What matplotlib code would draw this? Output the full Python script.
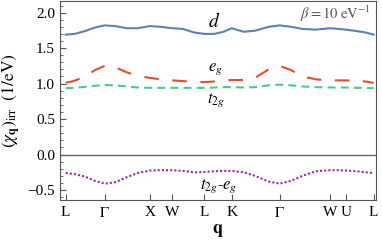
import numpy as np
import matplotlib.pyplot as plt

plt.rcParams['font.family'] = ['Liberation Serif', 'DejaVu Serif']
plt.rcParams['mathtext.fontset'] = 'stix'

# high-symmetry path (segment lengths in 2pi/a)
kpts = ['L', r'$\Gamma$', 'X', 'W', 'L', 'K', r'$\Gamma$', 'W', 'U', 'L']
seg_len = [0.866, 1.0, 0.5, 0.707, 0.612, 1.061, 1.118, 0.354, 0.612]

q = [0.0, 0.2, 0.43, 0.65, 0.866, 1.1, 1.35, 1.6, 1.866, 2.1, 2.366, 2.6, 2.85,
     3.073, 3.3, 3.5, 3.685, 3.95, 4.2, 4.5, 4.746, 5.0, 5.25, 5.55, 5.864,
     6.05, 6.218, 6.45, 6.65, 6.83]

chi_d = [1.69, 1.70, 1.74, 1.79, 1.82, 1.81, 1.78, 1.78, 1.81, 1.80, 1.78, 1.77,
         1.72, 1.70, 1.70, 1.73, 1.78, 1.73, 1.745, 1.80, 1.82, 1.80, 1.77, 1.76,
         1.78, 1.77, 1.76, 1.74, 1.72, 1.69]
chi_eg = [1.01, 1.04, 1.10, 1.19, 1.25, 1.23, 1.16, 1.11, 1.08, 1.06, 1.045, 1.035,
          1.025, 1.02, 1.03, 1.045, 1.05, 1.05, 1.08, 1.20, 1.25, 1.19, 1.10, 1.06,
          1.045, 1.045, 1.045, 1.04, 1.03, 1.01]
chi_t2g = [0.935, 0.94, 0.955, 0.97, 0.98, 0.975, 0.96, 0.945, 0.94, 0.94, 0.94, 0.94,
           0.94, 0.94, 0.945, 0.95, 0.95, 0.945, 0.95, 0.975, 0.985, 0.975, 0.96, 0.95,
           0.945, 0.945, 0.945, 0.94, 0.94, 0.935]
chi_mix = [-0.26, -0.275, -0.31, -0.37, -0.41, -0.39, -0.32, -0.26, -0.225, -0.22,
           -0.22, -0.23, -0.25, -0.245, -0.235, -0.23, -0.23, -0.25, -0.30, -0.38,
           -0.41, -0.37, -0.30, -0.235, -0.22, -0.22, -0.225, -0.235, -0.25, -0.26]

kpos = np.concatenate([[0], np.cumsum(seg_len)])

fig = plt.figure(figsize=(3.82, 2.5), dpi=100)
ax = fig.add_axes([0.157, 0.2, 0.827, 0.795])

ax.axhline(0, color='#666666', lw=1.0)
ax.plot(q, chi_d, color='#5E81B5', lw=1.5)
ax.plot(q, chi_eg, color='#E0502A', lw=1.5, dashes=(7, 6.5))
ax.plot(q, chi_t2g, color='#3FCF8E', lw=1.5, dashes=(3.8, 2.5))
ax.plot(q, chi_mix, color='#A424A4', lw=1.5, dashes=(1, 1))

ax.text(3.29, 1.88, r'$d$', fontsize=14, ha='center', va='center')
ax.text(3.33, 1.21, r'$e_g$', fontsize=12, ha='center', va='center')
ax.text(3.33, 0.76, r'$t_{2g}$', fontsize=12, ha='center', va='center')
ax.text(3.40, -0.44, r'$t_{2g}$-$e_g$', fontsize=12, ha='center', va='center')
ax.text(5.99, 1.98, r'$\beta=10\ \mathrm{eV}^{-1}$', fontsize=10.5, ha='center',
        va='center', color='#555555')

ax.set_xlim(-0.126, 6.88)
ax.set_ylim(-0.64, 2.16)
ax.set_xticks(kpos)
ax.set_xticklabels(kpts, fontsize=11)
ax.set_yticks([-0.5, 0.0, 0.5, 1.0, 1.5, 2.0])
ax.set_yticklabels(['\u22120.5', '0.0', '0.5', '1.0', '1.5', '2.0'], fontsize=11)
ax.set_yticks(np.arange(-0.6, 2.15, 0.1), minor=True)
ax.tick_params(direction='in', length=4, color='#555555')
ax.tick_params(which='minor', direction='in', length=2, color='#555555')
ax.tick_params(axis='x', pad=4)
for s in ax.spines.values():
    s.set_color('#555555')

ax.set_xlabel(r'$\mathbf{q}$', fontsize=13, labelpad=2)
ax.set_ylabel(r'$(\chi_{\mathbf{q}})_{\mathrm{irr}}\ \ (1/\mathrm{eV})$', fontsize=12.5, labelpad=3)

fig.savefig('out.png', dpi=100)
